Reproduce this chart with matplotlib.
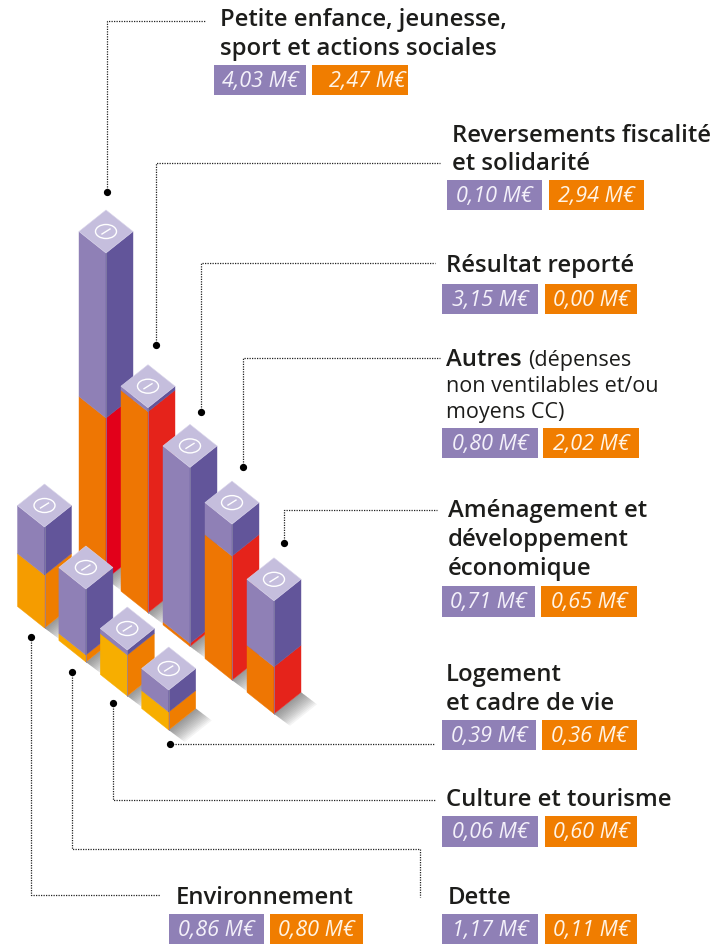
import numpy as np
import matplotlib
matplotlib.use('Agg')
import matplotlib.pyplot as plt
from matplotlib.patches import Polygon, Ellipse, Rectangle

plt.rcParams['font.family'] = ['Open Sans', 'DejaVu Sans']

# values printed in the labels
depenses = ['4,03 M€', '0,10 M€', '3,15 M€', '0,80 M€', '0,71 M€', '0,39 M€', '0,06 M€', '1,17 M€', '0,86 M€']
recettes = ['2,47 M€', '2,94 M€', '0,00 M€', '2,02 M€', '0,65 M€', '0,36 M€', '0,60 M€', '0,11 M€', '0,80 M€']

# bar heights as drawn (the picture is not to scale with the labels)
# order: back row left to right, then front row left to right
noms = ['petite', 'reversements', 'resultat', 'autres', 'amenagement',
        'environnement', 'dette', 'culture', 'logement']
haut_violet = [165, 4, 176, 32, 66, 48, 66, 5, 22]
haut_orange = [161, 201, 3, 124, 47, 53, 7, 41, 18]
rang = [0, 0, 0, 0, 0, 1, 1, 1, 1]
col = [0, 1, 2, 3, 4, 0, 1, 2, 3]

# orange faces
gauche = ['#EE7603', '#EE7603', '#EE7603', '#EE7603', '#EE7603', '#F59C00', '#F7A600', '#F7AE00', '#F7AE00']
droite = ['#E2001A', '#E5231B', '#E5231B', '#E5231B', '#E5231B', '#EF7D00', '#EF7D00', '#EF7D00', '#EF7D00']

TOP = '#C5BEDD'
VIO_G = '#8F80B6'
VIO_D = '#62559A'
ORANGE = '#F07D00'
W = 27
H = 21.5


def origine(r, c):
    if r == 0:
        return 106 + c * 42, 579 + c * 33.7
    return 44.5 + c * 41.4, 628 + c * 34


fig = plt.figure(figsize=(7.16, 9.45), dpi=100)
ax = fig.add_axes([0, 0, 1, 1])
ax.set_xlim(0, 716)
ax.set_ylim(944, -1)
ax.axis('off')


def ombre(x, y):
    # soft shadow, a stack of faint polygons
    for k in np.linspace(1, 0.08, 12):
        dx, dy = 16 * k, 12 * k
        ax.add_patch(Polygon([(x, y), (x + W, y - H), (x + W + dx, y - H + dy), (x + dx, y + dy)],
                             fc='#444444', ec='none', alpha=0.06, zorder=1))


def bloc(x, y0, y1, cg, cd, z):
    ax.add_patch(Polygon([(x - W, y0 - H), (x, y0), (x, y1), (x - W, y1 - H)], fc=cg, ec=cg, lw=0.3, zorder=z))
    ax.add_patch(Polygon([(x + W, y0 - H), (x, y0), (x, y1), (x + W, y1 - H)], fc=cd, ec=cd, lw=0.3, zorder=z))


for i in range(len(noms)):
    x, y = origine(rang[i], col[i])
    ombre(x, y)

for i in range(len(noms)):
    x, y = origine(rang[i], col[i])
    z = 2 + i
    y_mid = y - haut_orange[i]
    y_top = y_mid - haut_violet[i]
    bloc(x, y, y_mid, gauche[i], droite[i], z)
    bloc(x, y_mid, y_top, VIO_G, VIO_D, z)
    ax.plot([x, x], [y_top, y], color='#8A86A8', lw=0.7, alpha=0.7, zorder=z)
    ax.add_patch(Polygon([(x - W, y_top - H), (x, y_top - 2 * H), (x + W, y_top - H), (x, y_top)],
                         fc=TOP, ec='#D9D4EA', lw=0.4, zorder=z))
    ax.add_patch(Ellipse((x, y_top - H), 21, 14, fc='none', ec='white', lw=1, zorder=z))
    ax.plot([x - 4, x + 4], [y_top - H + 2.5, y_top - H - 2.5], color='white', lw=1, zorder=z)

# leader lines, dot first
fils = [
    [(107, 192), (107, 21), (206, 21)],
    [(156, 345), (156, 163), (440, 163)],
    [(201, 412), (201, 263), (435, 263)],
    [(243, 467), (243, 358), (440, 358)],
    [(284, 543), (284, 510), (437, 510)],
    [(170, 744), (435, 744)],
    [(113, 703), (113, 800), (435, 800)],
    [(72, 672), (72, 849), (420, 849), (420, 897)],
    [(31, 637), (31, 895), (160, 895)],
]
for f in fils:
    xs, ys = zip(*f)
    ax.plot(xs, ys, color='#222222', lw=0.9, ls=(0, (1, 1)), zorder=20)
    ax.plot(xs[0], ys[0], 'o', color='black', ms=4.2, zorder=21)

# titles: x, baseline, text, weight
titres = [
    (220, 25, 'Petite enfance, jeunesse,', 'semibold'),
    (220, 54, 'sport et actions sociales', 'semibold'),
    (452, 141, 'Reversements fiscalité', 'semibold'),
    (452, 169, 'et solidarité', 'semibold'),
    (446, 271, 'Résultat reporté', 'semibold'),
    (446, 365, 'Autres', 'semibold'),
    (528, 365, '(dépenses', 'normal'),
    (446, 391, 'non ventilables et/ou', 'normal'),
    (446, 417, 'moyens CC)', 'normal'),
    (448, 516, 'Aménagement et', 'semibold'),
    (448, 545, 'développement', 'semibold'),
    (448, 574, 'économique', 'semibold'),
    (446, 680, 'Logement', 'semibold'),
    (446, 709, 'et cadre de vie', 'semibold'),
    (446, 805, 'Culture et tourisme', 'semibold'),
    (448, 903, 'Dette', 'semibold'),
    (176, 903, 'Environnement', 'semibold'),
]
for tx, ty, s, w in titres:
    fs = 17.2 if w == 'semibold' else 15.5
    ax.text(tx, ty, s, fontsize=fs, fontweight=w, color='#1d1d1b', va='baseline', ha='left', zorder=30)

# label boxes: left/right of violet, left/right of orange, top, bottom, shift of the orange text
boites = [
    (214, 306, 312, 408, 65, 95, 7),
    (447, 542, 549, 644, 180, 210, 0),
    (442, 538, 545, 637, 284, 314, 0),
    (442, 538, 543, 639, 428, 458, 0),
    (442, 535, 541, 637, 586, 617, 0),
    (442, 536, 542, 637, 720, 750, 0),
    (442, 538, 545, 637, 816, 847, 0),
    (442, 538, 545, 637, 914, 945, 0),
    (169, 264, 270, 363, 914, 945, 0),
]
for (a, b, c, d, t, u, dec), v1, v2 in zip(boites, depenses, recettes):
    ax.add_patch(Rectangle((a, t), b - a, u - t, fc=VIO_G, ec='none', zorder=25))
    ax.add_patch(Rectangle((c, t), d - c, u - t, fc=ORANGE, ec='none', zorder=25))
    ax.text((a + b) / 2, (t + u) / 2 + 0.5, v1, color='#F4F1FA', style='italic', fontsize=15.6,
            ha='center', va='center', zorder=30)
    ax.text((c + d) / 2 + dec, (t + u) / 2 + 0.5, v2, color='#FFF4E6', style='italic', fontsize=15.6,
            ha='center', va='center', zorder=30)

fig.savefig('out.png', dpi=100)
